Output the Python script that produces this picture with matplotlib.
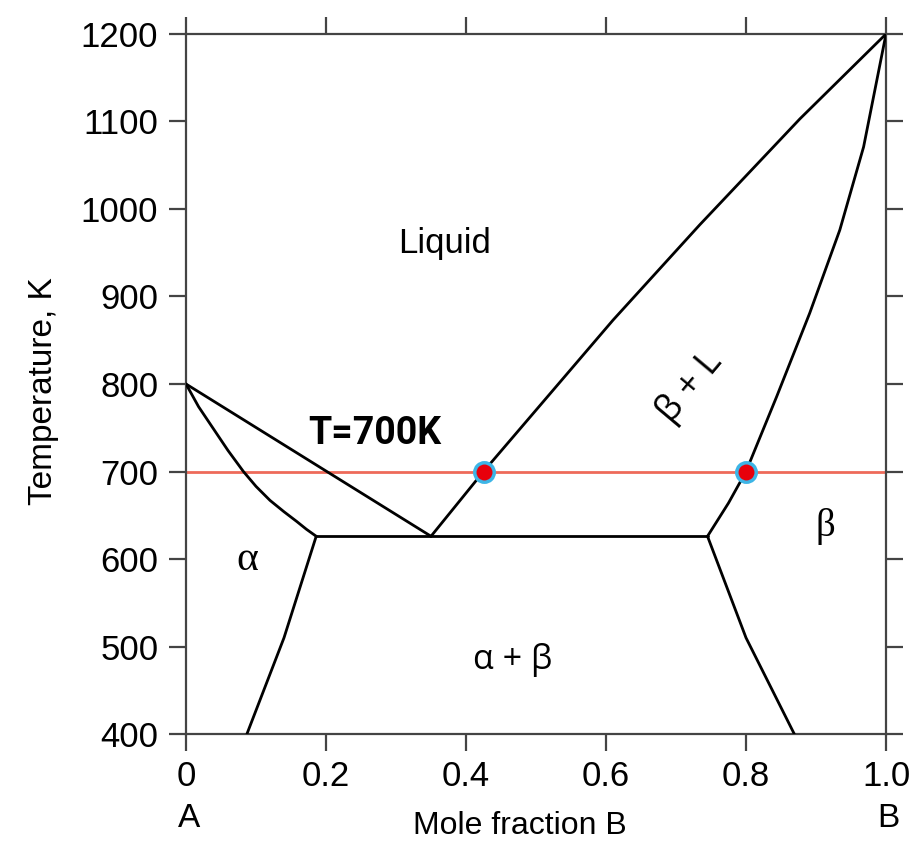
import numpy as np
import matplotlib
matplotlib.use("Agg")
import matplotlib.pyplot as plt

# phase boundaries (mole fraction B, temperature K)
liq_left_x = [0.0, 0.35]
liq_left_t = [800, 626]

sol_alpha_x = [0.0, 0.018, 0.039, 0.06, 0.082, 0.10, 0.12, 0.14, 0.158, 0.172, 0.186]
sol_alpha_t = [800, 774, 749, 724, 700, 683, 667, 654, 643, 634, 626]

solv_alpha_x = [0.186, 0.14, 0.087]
solv_alpha_t = [626, 510, 400]

eut_x = [0.186, 0.745]
eut_t = [626, 626]

liq_right_x = [0.35, 0.425, 0.61, 0.734, 0.877, 1.0]
liq_right_t = [626, 700, 873, 982, 1103, 1200]

sol_beta_x = [0.745, 0.775, 0.80, 0.844, 0.891, 0.934, 0.968, 1.0]
sol_beta_t = [626, 664, 700, 786, 881, 976, 1071, 1200]

solv_beta_x = [0.745, 0.80, 0.869]
solv_beta_t = [626, 510, 400]

tie_t = 700
tie_x = [0.425, 0.80]

xticks = [0, 0.2, 0.4, 0.6, 0.8, 1.0]
xticklabels = ["0", "0.2", "0.4", "0.6", "0.8", "1.0"]
yticks = [400, 500, 600, 700, 800, 900, 1000, 1100, 1200]

plt.rcParams['font.family'] = ['Liberation Sans', 'DejaVu Sans']

fig = plt.figure(figsize=(9.19, 8.41), dpi=100)
ax = fig.add_axes([0.2024, 0.1272, 0.7617, 0.8324])

lw = 2.0
for xs, ts in [(liq_left_x, liq_left_t), (sol_alpha_x, sol_alpha_t),
               (solv_alpha_x, solv_alpha_t), (eut_x, eut_t),
               (liq_right_x, liq_right_t), (sol_beta_x, sol_beta_t),
               (solv_beta_x, solv_beta_t)]:
    ax.plot(xs, ts, color='black', lw=lw, solid_joinstyle='round',
            solid_capstyle='round', zorder=3)

ax.axhline(tie_t, color='#ee6a5a', lw=2.0, zorder=2)
ax.plot(tie_x, [tie_t] * len(tie_x), 'o', ms=14, mfc='#e8000b',
        mec='#3db5e6', mew=2.5, zorder=5, linestyle='none')

ax.set_xlim(0, 1)
ax.set_ylim(400, 1200)
ax.set_xticks(xticks)
ax.set_xticklabels(xticklabels)
ax.set_yticks(yticks)
ax.tick_params(direction='out', length=12, width=1.6, color='#444444',
               labelsize=25, pad=7, top=True, right=True)
ax.tick_params(axis='y', pad=8)
for s in ax.spines.values():
    s.set_color('#444444')
    s.set_linewidth(1.6)

ax.text(0.005, -0.12, "A", transform=ax.get_xaxis_transform(), ha='center',
        va='center', fontsize=24)
ax.text(1.003, -0.12, "B", transform=ax.get_xaxis_transform(), ha='center',
        va='center', fontsize=24)
ax.text(0.477, -0.131, "Mole fraction B", transform=ax.transAxes, ha='center',
        va='center', fontsize=23)
ax.text(-0.203, 0.49, "Temperature, K", transform=ax.transAxes, ha='center',
        va='center', fontsize=24, rotation=90)

# region labels
ax.text(0.37, 961, "Liquid", ha='center', va='center', fontsize=25)
ax.text(0.27, 743, "T=700K", ha='center', va='center', fontsize=27,
        fontweight='bold', family=['Roboto', 'DejaVu Sans'])
ax.text(0.087, 599, "α", ha='center', va='center', fontsize=30,
        family=['Liberation Serif', 'DejaVu Serif'])
ax.text(0.914, 637, "β", ha='center', va='center', fontsize=28,
        family=['Liberation Serif', 'DejaVu Serif'])
ax.text(0.466, 485, "α + β", ha='center', va='center', fontsize=24.5,
        family=['Open Sans', 'DejaVu Sans'])
ax.text(0.72, 797, "β + L", ha='center', va='center', fontsize=26,
        rotation=50, family=['Open Sans', 'DejaVu Sans'])

fig.savefig("out.png", dpi=100)
